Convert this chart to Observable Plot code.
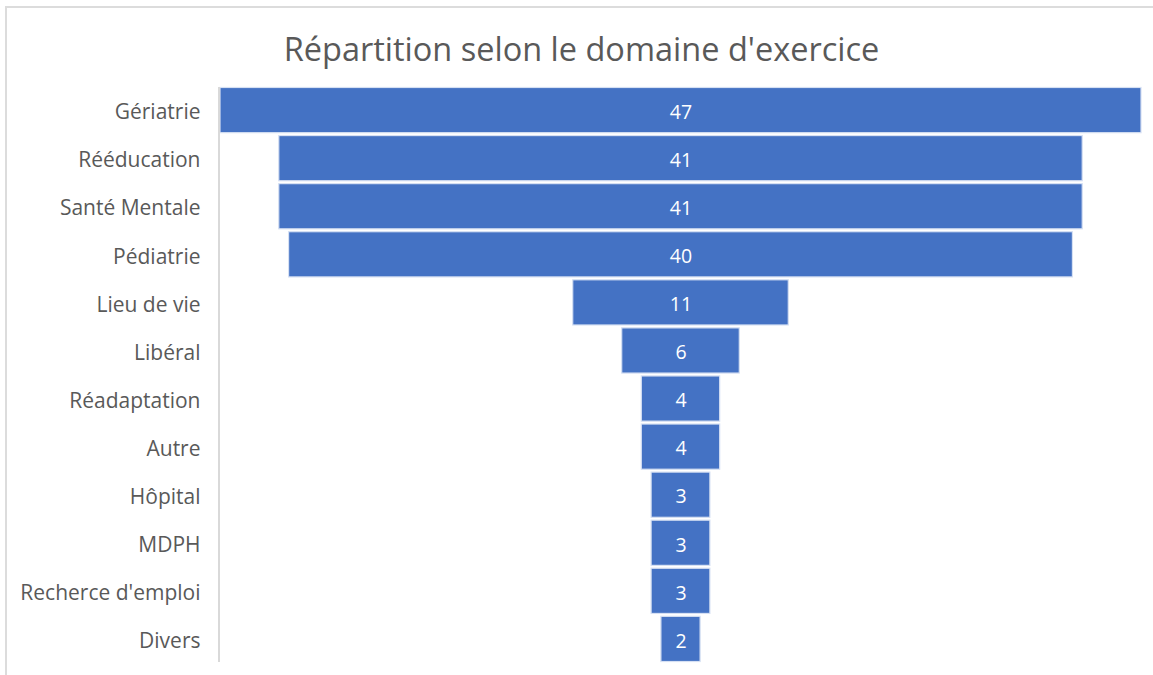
<!DOCTYPE html>
<html><head><meta charset="utf-8">
<script src="https://cdn.jsdelivr.net/npm/d3@7"></script>
<script src="https://cdn.jsdelivr.net/npm/@observablehq/plot@0.6"></script>
<style>
html,body{margin:0;padding:0;background:#fff;}
#wrap{position:relative;width:1153px;height:675px;overflow:hidden;}
#frame{position:absolute;left:5px;top:6px;width:1200px;height:700px;border-top:2px solid #dcdcdc;border-left:2px solid #dcdcdc;}
#title{position:absolute;left:0;top:0;width:1153px;height:80px;box-sizing:border-box;padding-left:10px;text-align:center;line-height:98px;font-family:"Open Sans",sans-serif;font-size:32.5px;color:#595959;}
#chart{position:absolute;left:0;top:80px;}
</style></head>
<body>
<div id="wrap"><div id="frame"></div><div id="title">Répartition selon le domaine d'exercice</div><div id="chart"></div></div>
<script>
const categories = ["Gériatrie","Rééducation","Santé Mentale","Pédiatrie","Lieu de vie","Libéral","Réadaptation","Autre","Hôpital","MDPH","Recherce d'emploi","Divers"];
const values = [47,41,41,40,11,6,4,4,3,3,3,2];
const data = categories.map((c,i)=>({cat:c, value:values[i]}));
const maxV = d3.max(values);
const fontFam = '"Open Sans",sans-serif';
const plot = Plot.plot({
  width:1153, height:595,
  marginLeft:220, marginRight:12, marginTop:7, marginBottom:13,
  x:{domain:[-maxV/2, maxV/2], axis:null},
  y:{domain:categories, paddingInner:0.06, paddingOuter:0.01, round:false, label:null},
  style:{fontFamily:fontFam, background:"transparent"},
  marks:[
    Plot.axisY({tickSize:0, tickPadding:20, fontSize:21, fill:"#595959", label:null, dy:2}),
    Plot.barX(data,{y:"cat", x1:d=>-d.value/2, x2:d=>d.value/2, fill:"#4472C4", stroke:"#d6e0f3", strokeWidth:1.2}),
    Plot.text(data,{y:"cat", x:()=>0, text:d=>String(d.value), fill:"white", fontSize:19.5, fontFamily:fontFam, dy:2}),
    Plot.ruleX([-maxV/2],{stroke:"#d9d9d9", strokeWidth:2, dx:-1.5})
  ]
});
document.getElementById("chart").appendChild(plot);
</script>
</body></html>
